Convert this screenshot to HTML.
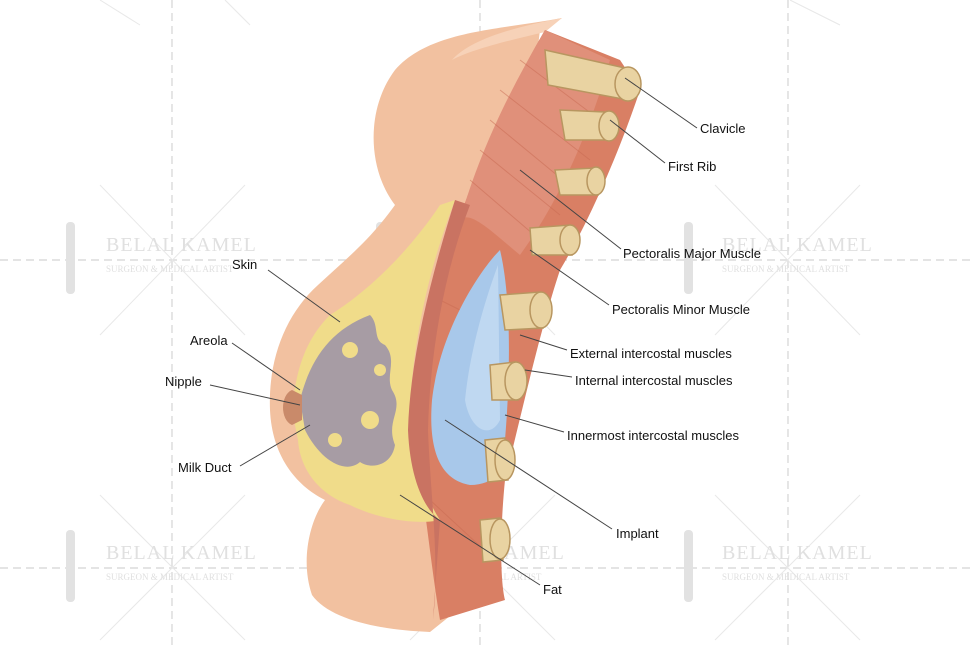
<!DOCTYPE html>
<html><head><meta charset="utf-8"><style>
html,body{margin:0;padding:0;background:#fff}
svg{display:block}
text{font-family:"Liberation Sans",sans-serif;font-size:13px;fill:#111}
.wm{font-family:"Liberation Serif",serif;font-size:20px;fill:#e0e0e0;letter-spacing:1px}
.wm2{font-family:"Liberation Serif",serif;font-size:9px;fill:#e0e0e0}
</style></head><body>
<svg width="970" height="647" viewBox="0 0 970 647" xmlns="http://www.w3.org/2000/svg">
<rect width="970" height="647" fill="#fff"/>
<g stroke="#d4d4d4" stroke-width="1.2" stroke-dasharray="8,5" fill="none">
<line x1="0" y1="260" x2="970" y2="260"/>
<line x1="0" y1="568" x2="970" y2="568"/>
<line x1="172" y1="0" x2="172" y2="647"/>
<line x1="480" y1="0" x2="480" y2="647"/>
<line x1="788" y1="0" x2="788" y2="647"/>
</g>
<g stroke="#e8e8e8" stroke-width="1" fill="none">
<line x1="100" y1="185" x2="245" y2="335"/><line x1="245" y1="185" x2="100" y2="335"/>
<line x1="410" y1="185" x2="555" y2="335"/><line x1="555" y1="185" x2="410" y2="335"/>
<line x1="715" y1="185" x2="860" y2="335"/><line x1="860" y1="185" x2="715" y2="335"/>
<line x1="100" y1="495" x2="245" y2="640"/><line x1="245" y1="495" x2="100" y2="640"/>
<line x1="410" y1="495" x2="555" y2="640"/><line x1="555" y1="495" x2="410" y2="640"/>
<line x1="715" y1="495" x2="860" y2="640"/><line x1="860" y1="495" x2="715" y2="640"/>
<line x1="100" y1="0" x2="140" y2="25"/><line x1="225" y1="0" x2="250" y2="25"/>
<line x1="790" y1="0" x2="840" y2="25"/>
</g>
<g fill="#e2e2e2">
<rect x="66" y="222" width="9" height="72" rx="4"/><rect x="376" y="222" width="9" height="72" rx="4"/><rect x="684" y="222" width="9" height="72" rx="4"/>
<rect x="66" y="530" width="9" height="72" rx="4"/><rect x="376" y="530" width="9" height="72" rx="4"/><rect x="684" y="530" width="9" height="72" rx="4"/>
</g>
<text class="wm" x="106" y="251">BELAL KAMEL</text><text class="wm2" x="106" y="272">SURGEON &amp; MEDICAL ARTIST</text>
<text class="wm" x="414" y="251">BELAL KAMEL</text><text class="wm2" x="414" y="272">SURGEON &amp; MEDICAL ARTIST</text>
<text class="wm" x="722" y="251">BELAL KAMEL</text><text class="wm2" x="722" y="272">SURGEON &amp; MEDICAL ARTIST</text>
<text class="wm" x="106" y="559">BELAL KAMEL</text><text class="wm2" x="106" y="580">SURGEON &amp; MEDICAL ARTIST</text>
<text class="wm" x="414" y="559">BELAL KAMEL</text><text class="wm2" x="414" y="580">SURGEON &amp; MEDICAL ARTIST</text>
<text class="wm" x="722" y="559">BELAL KAMEL</text><text class="wm2" x="722" y="580">SURGEON &amp; MEDICAL ARTIST</text>

<path d="M562,18 C500,30 430,30 395,70 C365,110 368,170 395,205 C370,240 345,260 318,285 C285,315 268,360 270,410 C272,455 295,485 325,500 C310,520 300,560 312,595 C330,620 380,630 430,632 L470,600 L540,30 Z" fill="#f2c1a0"/>
<path d="M562,18 C510,28 470,40 452,60 C470,50 510,40 545,32 Z" fill="#f7d2b8"/>
<path d="M545,30 L620,60 L640,90 C620,150 590,220 560,270 C540,330 520,420 505,480 C500,530 500,580 505,600 L440,620 C430,560 425,500 415,450 C410,380 430,300 455,230 C480,160 510,90 545,30 Z" fill="#d97f64"/>
<path d="M545,30 L610,60 C590,130 560,200 520,255 C490,230 470,210 460,220 C480,150 510,90 545,30 Z" fill="#e0907a"/>
<g stroke="#c86a52" stroke-width="1" opacity="0.5">
<line x1="500" y1="90" x2="590" y2="160"/><line x1="490" y1="120" x2="575" y2="190"/><line x1="480" y1="150" x2="560" y2="215"/><line x1="470" y1="180" x2="540" y2="240"/>
<line x1="520" y1="60" x2="600" y2="120"/><line x1="440" y1="300" x2="500" y2="330"/><line x1="430" y1="500" x2="495" y2="560"/>
</g>
<path d="M455,200 C440,240 420,300 412,380 C408,440 420,490 440,520 C420,525 380,520 350,505 C320,495 300,470 298,440 L292,410 C296,370 305,340 330,315 C370,290 410,250 440,205 Z" fill="#f0dc8a"/>
<path d="M455,200 C430,280 410,360 408,430 C410,480 425,510 440,520 L433,620 C440,560 430,490 428,430 C430,350 445,270 470,205 Z" fill="#c97362"/>
<path d="M300,400 C310,360 330,330 370,315 C380,325 372,340 385,345 C398,360 385,375 392,390 C405,410 385,420 395,445 C392,465 372,470 360,462 C345,475 320,460 305,430 Z" fill="#9a90a8" opacity="0.85"/>
<g fill="#f0dc8a"><circle cx="350" cy="350" r="8"/><circle cx="370" cy="420" r="9"/><circle cx="335" cy="440" r="7"/><circle cx="380" cy="370" r="6"/></g>
<path d="M292,390 C280,395 280,420 292,425 L302,420 L302,395 Z" fill="#c98a6a"/>
<path d="M500,250 C480,270 440,330 432,400 C428,450 440,480 470,485 C495,485 505,470 505,440 C510,380 512,300 500,250 Z" fill="#a8c8ea"/>
<path d="M498,265 C485,300 470,350 465,400 C470,430 490,440 500,420 Z" fill="#cfe2f5" opacity="0.6"/>
<g fill="#e9d3a2" stroke="#b89660" stroke-width="1.5">
<path d="M545,50 L625,68 L628,100 L548,85 Z"/><ellipse cx="628" cy="84" rx="13" ry="17"/>
<path d="M560,110 L605,112 L610,140 L565,140 Z"/><ellipse cx="609" cy="126" rx="10" ry="15"/>
<path d="M555,170 L595,168 L598,195 L560,195 Z"/><ellipse cx="596" cy="181" rx="9" ry="14"/>
<path d="M530,228 L570,225 L572,255 L532,255 Z"/><ellipse cx="570" cy="240" rx="10" ry="15"/>
<path d="M500,295 L540,292 L543,328 L505,330 Z"/><ellipse cx="541" cy="310" rx="11" ry="18"/>
<path d="M490,365 L515,362 L518,400 L492,400 Z"/><ellipse cx="516" cy="381" rx="11" ry="19"/>
<path d="M485,440 L505,438 L508,480 L488,482 Z"/><ellipse cx="505" cy="460" rx="10" ry="20"/>
<path d="M480,520 L500,518 L503,560 L483,562 Z"/><ellipse cx="500" cy="539" rx="10" ry="20"/>
</g>
<g stroke="#444" stroke-width="1" fill="none">
<line x1="625" y1="78" x2="697" y2="128"/>
<line x1="610" y1="120" x2="665" y2="163"/>
<line x1="520" y1="170" x2="621" y2="249"/>
<line x1="530" y1="250" x2="609" y2="305"/>
<line x1="520" y1="335" x2="567" y2="350"/>
<line x1="525" y1="370" x2="572" y2="377"/>
<line x1="505" y1="415" x2="564" y2="432"/>
<line x1="445" y1="420" x2="612" y2="529"/>
<line x1="400" y1="495" x2="540" y2="585"/>
<line x1="268" y1="270" x2="340" y2="322"/>
<line x1="232" y1="343" x2="300" y2="390"/>
<line x1="210" y1="385" x2="300" y2="405"/>
<line x1="240" y1="466" x2="310" y2="425"/>
</g>
<text x="700" y="133">Clavicle</text>
<text x="668" y="171">First Rib</text>
<text x="623" y="258">Pectoralis Major Muscle</text>
<text x="612" y="314">Pectoralis Minor Muscle</text>
<text x="570" y="358">External intercostal muscles</text>
<text x="575" y="385">Internal intercostal muscles</text>
<text x="567" y="440">Innermost intercostal muscles</text>
<text x="616" y="538">Implant</text>
<text x="543" y="594">Fat</text>
<text x="232" y="269">Skin</text>
<text x="190" y="345">Areola</text>
<text x="165" y="386">Nipple</text>
<text x="178" y="472">Milk Duct</text>
</svg>
</body></html>
